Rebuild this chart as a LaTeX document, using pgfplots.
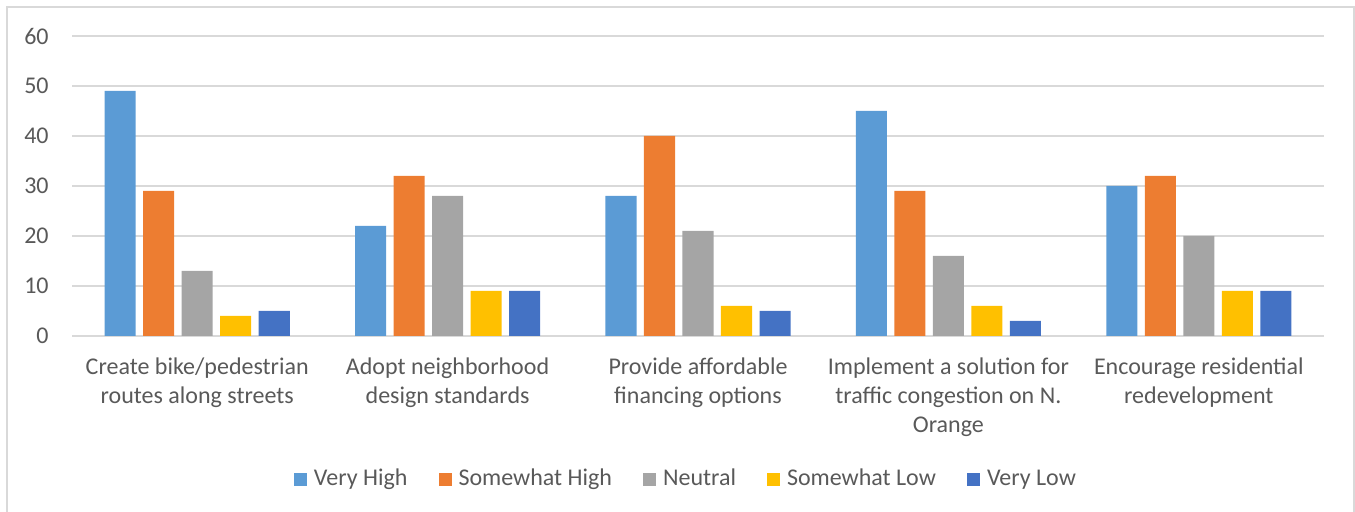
\documentclass[border=0pt]{standalone}
\usepackage{fontspec}
\setmainfont{Carlito}
\usepackage{pgfplots}
\pgfplotsset{compat=1.18}
\definecolor{cVH}{HTML}{5B9BD5}
\definecolor{cSH}{HTML}{ED7D31}
\definecolor{cN}{HTML}{A5A5A5}
\definecolor{cSL}{HTML}{FFC000}
\definecolor{cVL}{HTML}{4472C4}
\definecolor{gridc}{HTML}{D9D9D9}
\definecolor{txt}{HTML}{595959}
\begin{document}
\begin{tikzpicture}
\path[use as bounding box] (0,0) rectangle (677.5pt,256pt);
\draw[gridc, line width=0.75pt] (3.5pt,-2pt) rectangle (677pt,252.5pt);
\begin{axis}[
  at={(36pt,88pt)}, anchor=south west,
  scale only axis, width=626pt, height=150pt,
  xmin=-0.5, xmax=4.5, ymin=0, ymax=60,
  ytick={0,10,...,60},
  xtick={0,1,2,3,4},
  xticklabels={{Create bike/pedestrian\\routes along streets},{Adopt neighborhood\\design standards},{Provide affordable\\financing options},{Implement a solution for\\traffic congestion on N.\\Orange},{Encourage residential\\redevelopment}},
  major tick length=0pt,
  axis line style={draw=none},
  ymajorgrids, grid style={gridc, line width=0.75pt},
  /pgf/number format/assume math mode=true,
  tick label style={font=\fontsize{12}{14.5}\selectfont, text=txt},
  yticklabel style={inner sep=0pt, anchor=east, xshift=-11.5pt},
  xticklabel style={inner sep=0pt, anchor=north, align=center, yshift=-10.5pt},
  ybar, bar width=0.124,
  legend columns=-1,
  legend style={at={(0.4896,-0.4767)}, anchor=center, draw=none, fill=none,
    font=\fontsize{12}{14.5}\selectfont, text=txt,
    nodes={inner sep=0pt},
    /tikz/every odd column/.append style={column sep=3.5pt},
    /tikz/every even column/.append style={column sep=15.5pt}},
  legend image code/.code={\fill[#1] (0pt,-3.25pt) rectangle (6.5pt,3.25pt);},
]
\addplot[fill=cVH, draw=none, bar shift=-0.3076] coordinates {(0,49) (1,22) (2,28) (3,45) (4,30)};
\addplot[fill=cSH, draw=none, bar shift=-0.1538] coordinates {(0,29) (1,32) (2,40) (3,29) (4,32)};
\addplot[fill=cN, draw=none, bar shift=0] coordinates {(0,13) (1,28) (2,21) (3,16) (4,20)};
\addplot[fill=cSL, draw=none, bar shift=0.1538] coordinates {(0,4) (1,9) (2,6) (3,6) (4,9)};
\addplot[fill=cVL, draw=none, bar shift=0.3076] coordinates {(0,5) (1,9) (2,5) (3,3) (4,9)};
\legend{Very High, Somewhat High, Neutral, Somewhat Low, Very Low}
\end{axis}
\end{tikzpicture}
\end{document}
